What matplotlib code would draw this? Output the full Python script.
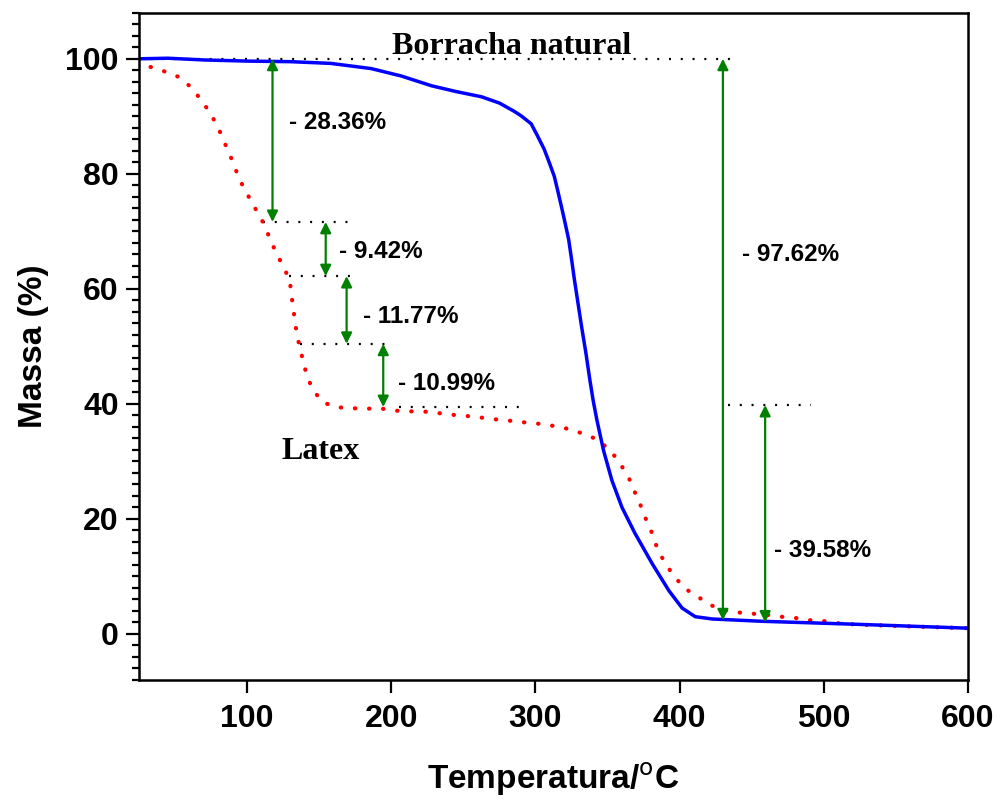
import matplotlib
matplotlib.use("Agg")
import matplotlib.pyplot as plt
from matplotlib.ticker import MultipleLocator

# curva TGA - borracha natural
temp_borracha = [25, 45, 70, 100, 130, 158, 186, 207, 228, 245, 262.5, 275, 285, 290, 297, 301,
                 306, 309.5, 313, 315.5, 318, 320.5, 323, 325, 327, 329.5, 332, 335, 337.7,
                 340, 342.6, 347.2, 353, 360, 369, 381, 392.6, 401.7, 410.8, 422.6, 457, 520,
                 600]
massa_borracha = [100, 100.1, 99.8, 99.6, 99.5, 99.2, 98.3, 97.0, 95.3, 94.3, 93.4, 92.3, 90.9,
                  90.1, 88.7, 86.8, 84.3, 82.0, 79.6, 77.0, 74.3, 71.5, 68.6, 65.2, 61.6, 57.5,
                  53.4, 48.8, 44.2, 40.6, 37.2, 31.9, 26.7, 22.0, 17.5, 12.2, 7.5, 4.5, 3.0,
                  2.6, 2.2, 1.7, 1.0]

# curva TGA - latex
temp_latex = [25, 32.7, 41.7, 52, 61, 68.9, 75, 80, 84.2, 88.4, 91.9, 96, 100.9, 106.5, 111.4,
              115.5, 119.7, 124.6, 129.5, 130.6, 131.7, 133.1, 134.3, 136.6, 139, 141.3, 145.3,
              152.2, 162.2, 171.2, 181, 190.5, 199.8, 208.8, 218.4, 227.6, 238.1, 247.2, 256.7,
              266, 275.7, 285.4, 295, 304.5, 314, 323.7, 333.3, 343, 352.3, 359.3, 364.8, 369,
              373, 376.7, 380.9, 384.3, 389, 394.8, 403, 413.6, 422.6, 433, 442, 451.9, 461,
              470, 479.7, 489.5, 498.5, 508.3, 518, 527, 560, 600]
massa_latex = [100, 98.6, 97.9, 96.9, 95.1, 92.6, 90.3, 88.0, 85.5, 83.1, 80.8, 78.4, 76.1, 73.6,
               71.4, 68.9, 66.5, 64.1, 61.6, 59.3, 57.0, 54.6, 52.4, 49.7, 47.3, 45.0, 42.6,
               40.3, 39.4, 39.3, 39.1, 39.3, 38.9, 38.7, 38.7, 38.6, 38.2, 38.0, 37.8, 37.5,
               37.2, 37.0, 36.7, 36.5, 36.1, 35.6, 34.8, 33.8, 31.8, 29.4, 27.1, 24.6, 22.3,
               19.9, 17.5, 15.0, 12.7, 10.5, 8.0, 6.3, 4.9, 4.0, 3.7, 3.5, 3.3, 3.0, 2.8, 2.4,
               2.3, 1.9, 1.7, 1.6, 1.3, 1.0]

# linhas de referencia pontilhadas: (y, x inicio, x fim)
ref_y = [100, 71.64, 62.22, 50.45, 39.46, 39.8]
ref_x0 = [25, 110.7, 128.8, 136.4, 205.4, 433.8]
ref_x1 = [435, 169.8, 172.6, 200.5, 290.3, 490.9]

# setas de perda de massa: x, topo, base, texto, posicao do texto
seta_x = [117.6, 154.5, 169.0, 194.4, 430.0, 459.3]
seta_topo = [100, 71.64, 62.22, 50.45, 100, 39.8]
seta_base = [71.64, 62.22, 50.45, 39.46, 2.38, 2.0]
seta_txt = ["- 28.36%", "- 9.42%", "- 11.77%", "- 10.99%", "- 97.62%", "- 39.58%"]
txt_x = [128.8, 163.6, 180.1, 204.5, 443.5, 465.6]
txt_y = [89.0, 66.5, 55.2, 43.6, 66.0, 14.5]

sans = "Liberation Sans"
serif = "Liberation Serif"

fig = plt.figure(figsize=(10, 7.99), dpi=100)
ax = fig.add_axes([0.139, 0.149, 0.829, 0.835])

for y, a, b in zip(ref_y, ref_x0, ref_x1):
    ax.plot([a, b], [y, y], color="black", lw=1.6, linestyle=(0, (0.9, 4.4)))

ax.plot(temp_latex, massa_latex, color="red", lw=3.0, linestyle=(0, (0.1, 3.3)),
        dash_capstyle="round")
ax.plot(temp_borracha, massa_borracha, color="blue", lw=2.5)

for x, t, b in zip(seta_x, seta_topo, seta_base):
    ax.annotate("", xy=(x, b), xytext=(x, t),
                arrowprops=dict(arrowstyle="<|-|>", color="green", lw=1.6,
                                mutation_scale=16, shrinkA=0, shrinkB=0))

for s, x, y in zip(seta_txt, txt_x, txt_y):
    ax.text(x, y, s, fontsize=17.5, fontweight="bold", family=sans, va="center", ha="left")

ax.text(283.8, 100.9, "Borracha natural", fontsize=23, fontweight="bold", family=serif,
        ha="center", va="baseline")
ax.text(151, 30.4, "Latex", fontsize=23, fontweight="bold", family=serif,
        ha="center", va="baseline")

ax.set_xlim(25, 600)
ax.set_ylim(-8, 108)
ax.xaxis.set_major_locator(MultipleLocator(100))
ax.yaxis.set_major_locator(MultipleLocator(20))
ax.yaxis.set_minor_locator(MultipleLocator(2))

ax.tick_params(axis="both", which="major", direction="out", length=9.5, width=1.6,
               labelsize=23, top=False, right=False)
ax.tick_params(axis="x", which="major", pad=8)
ax.tick_params(axis="y", which="major", pad=5)
ax.tick_params(axis="y", which="minor", direction="out", length=5, width=1.6, right=False)
for lbl in ax.get_xticklabels() + ax.get_yticklabels():
    lbl.set_fontweight("bold")
    lbl.set_family(sans)
for sp in ax.spines.values():
    sp.set_linewidth(1.8)

ax.set_xlabel("Temperatura/$^{\\mathrm{o}}$C", fontsize=24, fontweight="bold", family=sans,
              labelpad=19)
ax.set_ylabel("Massa (%)", fontsize=24, fontweight="bold", family=sans, labelpad=12)

fig.savefig("out.png", dpi=100)
